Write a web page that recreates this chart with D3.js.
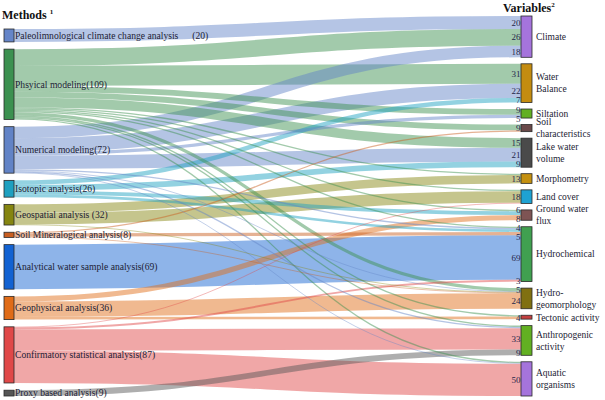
<!DOCTYPE html>
<html>
<head>
<meta charset="utf-8">
<script src="https://cdn.jsdelivr.net/npm/d3@7"></script>
<style>
  body { margin: 0; background: #fff; }
  text { font-family: "Liberation Serif", "Times New Roman", serif; }
</style>
</head>
<body>
<svg id="chart" width="605" height="400"></svg>
<script>
// left column: methods
const methods = [
  "Paleolimnological climate change analysis", "Phsyical modeling", "Numerical modeling",
  "Isotopic analysis", "Geospatial analysis", "Soil Mineralogical analysis",
  "Analytical water sample analysis", "Geophysical analysis",
  "Confirmatory statistical analysis", "Proxy based analysis"
];
const methodCounts = ["(20)", "(109)", "(72)", "(26)", " (32)", "(8)", "(69)", "(36)", "(87)", "(9)"];
const methodColors = ["#6585c8", "#3c9150", "#6283c6", "#1ea0c0", "#858510", "#c85e20",
                      "#1262d2", "#e06c18", "#e04848", "#555555"];

// right column: variables
const variables = [
  "Climate", "Water Balance", "Siltation", "Soil characteristics", "Lake water volume",
  "Morphometry", "Land cover", "Ground water flux", "Hydrochemical", "Hydro-geomorphology",
  "Tectonic activity", "Anthropogenic activity", "Aquatic organisms"
];
const variableLines = [
  ["Climate"], ["Water", "Balance"], ["Siltation"], ["Soil", "characteristics"],
  ["Lake water", "volume"], ["Morphometry"], ["Land cover"], ["Ground water", "flux"],
  ["Hydrochemical"], ["Hydro-", "geomorphology"], ["Tectonic activity"],
  ["Anthropogenic", "activity"], ["Aquatic", "organisms"]
];
const variableColors = ["#a574dc", "#c48c10", "#62b022", "#6a4a4a", "#4a4a4a", "#c49010",
                        "#1ea2d2", "#7e5454", "#40a050", "#807010", "#c44040", "#62b022", "#a574dc"];

// flows: [method, variable, count]
const flows = [
  [0, 0, 20],
  [1, 0, 26], [1, 1, 31], [1, 2, 9], [1, 3, 9], [1, 4, 15], [1, 5, 2], [1, 6, 2],
  [1, 7, 2], [1, 8, 2], [1, 9, 5], [1, 10, 2], [1, 11, 2], [1, 12, 2],
  [2, 0, 18], [2, 1, 22], [2, 2, 5], [2, 4, 21], [2, 8, 2], [2, 9, 1], [2, 11, 2], [2, 12, 1],
  [3, 1, 7], [3, 4, 9], [3, 7, 6], [3, 8, 4],
  [4, 5, 13], [4, 6, 18], [4, 9, 1],
  [5, 3, 2], [5, 8, 5], [5, 9, 1],
  [6, 8, 69],
  [7, 7, 8], [7, 9, 24], [7, 10, 4],
  [8, 6, 1], [8, 8, 3], [8, 11, 33], [8, 12, 50],
  [9, 11, 9]
];

const W = 605, H = 400;
const leftX = [4, 14], rightX = [521, 532];
const leftRange = [29, 396], rightRange = [16, 396];
const rightPad = 6.5;

const svg = d3.select("#chart");

// node totals
const leftNodes = methods.map((name, i) => ({ name, i, value: d3.sum(flows.filter(f => f[0] === i), f => f[2]), out: [] }));
const rightNodes = variables.map((name, i) => ({ name, i, value: d3.sum(flows.filter(f => f[1] === i), f => f[2]), inc: [] }));
const total = d3.sum(leftNodes, d => d.value);

const ky = (rightRange[1] - rightRange[0] - (variables.length - 1) * rightPad) / total;
const h = d3.scaleLinear().domain([0, total]).range([0, total * ky]);
const leftPad = (leftRange[1] - leftRange[0] - h(total)) / (methods.length - 1);

function stack(nodes, start, pad) {
  let y = start;
  nodes.forEach(n => { n.y0 = y; n.y1 = y + h(n.value); y = n.y1 + pad; });
}
stack(leftNodes, leftRange[0], leftPad);
stack(rightNodes, rightRange[0], rightPad);

const links = flows.map(([s, t, v]) => ({ source: leftNodes[s], target: rightNodes[t], value: v, width: h(v) }));
links.forEach(l => { l.source.out.push(l); l.target.inc.push(l); });
leftNodes.forEach(n => {
  let y = n.y0;
  n.out.sort((a, b) => a.target.i - b.target.i).forEach(l => { l.y0 = y + l.width / 2; y += l.width; });
});
rightNodes.forEach(n => {
  let y = n.y0;
  n.inc.sort((a, b) => a.source.i - b.source.i).forEach(l => { l.y1 = y + l.width / 2; y += l.width; });
});

const linkPath = d3.linkHorizontal()
  .source(d => [leftX[1], d.y0])
  .target(d => [rightX[0], d.y1]);

svg.append("g")
  .selectAll("path")
  .data(links.slice().sort((a, b) => b.width - a.width))
  .join("path")
  .attr("d", linkPath)
  .attr("fill", "none")
  .attr("stroke", d => methodColors[d.source.i])
  .attr("stroke-opacity", 0.48)
  .attr("stroke-width", d => Math.max(0.8, d.width));

// nodes
svg.append("g")
  .selectAll("rect")
  .data(leftNodes)
  .join("rect")
  .attr("x", leftX[0]).attr("width", leftX[1] - leftX[0])
  .attr("y", d => d.y0).attr("height", d => d.y1 - d.y0)
  .attr("fill", d => methodColors[d.i])
  .attr("stroke", "#2a2a2a").attr("stroke-width", 0.8);

svg.append("g")
  .selectAll("rect")
  .data(rightNodes)
  .join("rect")
  .attr("x", rightX[0]).attr("width", rightX[1] - rightX[0])
  .attr("y", d => d.y0).attr("height", d => d.y1 - d.y0)
  .attr("fill", d => variableColors[d.i])
  .attr("stroke", "#2a2a2a").attr("stroke-width", 0.8);

// left labels
const leftLabels = svg.append("g")
  .attr("font-size", 9.6).attr("fill", "#1c1c34")
  .selectAll("text")
  .data(leftNodes)
  .join("text")
  .attr("x", leftX[1] + 1)
  .attr("y", d => (d.y0 + d.y1) / 2)
  .attr("dy", "0.35em");
leftLabels.append("tspan").text(d => d.name);
leftLabels.append("tspan")
  .attr("dx", d => d.i === 0 ? 14 : 0)
  .text(d => methodCounts[d.i]);

// right labels
const lineH = 12;
svg.append("g")
  .attr("font-size", 9.5).attr("fill", "#1c1c34")
  .selectAll("text")
  .data(rightNodes)
  .join("text")
  .attr("x", rightX[1] + 4)
  .attr("y", d => (d.y0 + d.y1) / 2 - (variableLines[d.i].length - 1) * lineH / 2)
  .attr("dy", "0.35em")
  .selectAll("tspan")
  .data(d => variableLines[d.i])
  .join("tspan")
  .attr("x", rightX[1] + 4)
  .attr("dy", (d, k) => k === 0 ? "0.35em" : lineH)
  .text(d => d);

// value labels at the right end of links, nudged apart where crowded
const valueLabels = links.filter(l => l.value >= 3)
  .map(l => ({ value: l.value, y: l.y1 }))
  .sort((a, b) => a.y - b.y);
const minGap = 9;
for (let it = 0; it < 60; it++) {
  for (let k = 1; k < valueLabels.length; k++) {
    const gap = valueLabels[k].y - valueLabels[k - 1].y;
    if (gap < minGap) {
      const push = (minGap - gap) / 2;
      valueLabels[k - 1].y -= push;
      valueLabels[k].y += push;
    }
  }
}
svg.append("g")
  .attr("font-size", 9).attr("fill", "#26264a").attr("text-anchor", "end")
  .selectAll("text")
  .data(valueLabels)
  .join("text")
  .attr("x", rightX[0] - 0.5)
  .attr("y", d => d.y)
  .attr("dy", "0.35em")
  .text(d => d.value);

// column titles
const t1 = svg.append("text").attr("x", 2).attr("y", 19)
  .attr("font-size", 12).attr("font-weight", "bold").attr("fill", "#111");
t1.append("tspan").text("Methods ");
t1.append("tspan").attr("font-size", 7).attr("dy", -5).text("1");

const t2 = svg.append("text").attr("x", 503).attr("y", 12)
  .attr("font-size", 12).attr("font-weight", "bold").attr("fill", "#111");
t2.append("tspan").text("Variables");
t2.append("tspan").attr("font-size", 7).attr("dy", -5).text("2");
</script>
</body>
</html>
